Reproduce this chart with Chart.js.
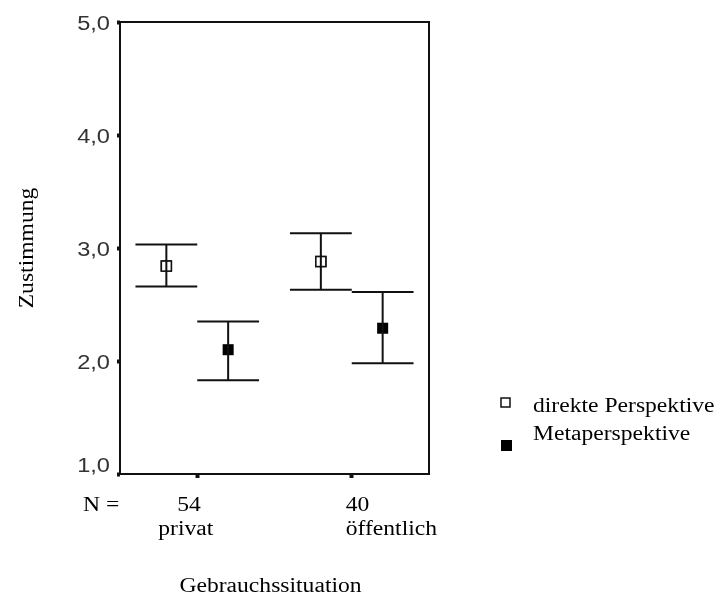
<!DOCTYPE html>
<html>
<head>
<meta charset="utf-8">
<script src="https://cdn.jsdelivr.net/npm/chart.js@4.4.0/dist/chart.umd.min.js"></script>
<style>
  html, body { margin: 0; padding: 0; background: #fff; }
  #wrap { position: relative; width: 723px; height: 599px; }
</style>
</head>
<body>
<div id="wrap"><canvas id="chart" width="723" height="599"></canvas></div>
<script>
// groups and sample sizes
const categories = ['privat', 'öffentlich'];
const groupSizes = [54, 40];
const seriesNames = ['direkte Perspektive', 'Metaperspektive'];

// means with lower / upper ends of the error bars
const direktMean = [2.84, 2.88];
const direktLower = [2.66, 2.63];
const direktUpper = [3.03, 3.13];
const metaMean = [2.10, 2.29];
const metaLower = [1.83, 1.98];
const metaUpper = [2.35, 2.61];

const yTickValues = [1, 2, 3, 4, 5];
const yTickLabels = ['1,0', '2,0', '3,0', '4,0', '5,0'];

const INK = '#111';
const SERIF = '"Liberation Serif", "Times New Roman", serif';
const SANS = '"Liberation Sans", Arial, sans-serif';
const STRETCH = 1.18;   // text in this figure is a bit wide
const OFFSET = 0.2;     // series shift left/right of the category centre
const CAP = 0.2;        // half width of the whisker caps

const toPoints = (means, lower, upper, shift) =>
  means.map((m, i) => ({ x: i + 0.5 + shift, y: m, lo: lower[i], hi: upper[i] }));

function wideText(ctx, text, x, y, align) {
  ctx.save();
  ctx.translate(x, y);
  ctx.scale(STRETCH, 1);
  ctx.textAlign = align || 'left';
  ctx.textBaseline = 'alphabetic';
  ctx.fillText(text, 0, 0);
  ctx.restore();
}

const frame = {
  id: 'frame',
  beforeDatasetsDraw(chart) {
    const { ctx, chartArea: a } = chart;
    ctx.save();
    ctx.strokeStyle = INK;
    ctx.lineWidth = 2;
    ctx.strokeRect(a.left, a.top, a.right - a.left, a.bottom - a.top);
    ctx.restore();
  }
};

const errorBars = {
  id: 'errorBars',
  afterDatasetsDraw(chart) {
    const { ctx, scales: { x, y } } = chart;
    ctx.save();
    ctx.strokeStyle = INK;
    ctx.lineWidth = 2;
    chart.data.datasets.forEach(ds => {
      ds.data.forEach(p => {
        const px = x.getPixelForValue(p.x);
        const l = x.getPixelForValue(p.x - CAP);
        const r = x.getPixelForValue(p.x + CAP);
        const top = y.getPixelForValue(p.hi);
        const bot = y.getPixelForValue(p.lo);
        ctx.beginPath();
        ctx.moveTo(px, top); ctx.lineTo(px, bot);
        ctx.moveTo(l, top); ctx.lineTo(r, top);
        ctx.moveTo(l, bot); ctx.lineTo(r, bot);
        ctx.stroke();
      });
    });
    // redraw the open markers' outline over the whisker
    chart.data.datasets.forEach((ds, di) => {
      if (ds.backgroundColor !== '#fff') return;
      chart.getDatasetMeta(di).data.forEach(el => {
        ctx.fillStyle = '#fff';
        ctx.strokeStyle = INK;
        ctx.lineWidth = 1.5;
        const s = 5;
        ctx.fillRect(el.x - s, el.y - s, 2 * s, 2 * s);
        ctx.strokeRect(el.x - s, el.y - s, 2 * s, 2 * s);
        ctx.lineWidth = 2;
        ctx.beginPath();
        ctx.moveTo(el.x, el.y - s); ctx.lineTo(el.x, el.y + s);
        ctx.stroke();
      });
    });
    ctx.restore();
  }
};

const labels = {
  id: 'labels',
  afterDraw(chart) {
    const { ctx, chartArea: a, scales: { x, y } } = chart;
    ctx.save();

    // value axis
    ctx.fillStyle = '#333';
    ctx.font = '20px ' + SANS;
    yTickValues.forEach((v, i) => {
      const py = y.getPixelForValue(v);
      const base = i === 0 ? py - 2 : py + 8;
      wideText(ctx, yTickLabels[i], a.left - 10, base, 'right');
    });

    // category axis: N row and group names
    ctx.fillStyle = '#000';
    ctx.font = '20px ' + SERIF;
    wideText(ctx, 'N =', a.left - 37, a.bottom + 37);
    const nShift = [-20, -6];
    const nameShift = [-39, -6];
    categories.forEach((c, i) => {
      const px = x.getPixelForValue(i + 0.5);
      wideText(ctx, String(groupSizes[i]), px + nShift[i], a.bottom + 37);
      wideText(ctx, c, px + nameShift[i], a.bottom + 61);
    });

    // axis titles
    wideText(ctx, 'Gebrauchssituation', (a.left + a.right) / 2 - 4, a.bottom + 118, 'center');
    ctx.save();
    ctx.translate(33, (a.top + a.bottom) / 2);
    ctx.rotate(-Math.PI / 2);
    ctx.scale(STRETCH, 1);
    ctx.textAlign = 'center';
    ctx.fillText('Zustimmung', 0, 0);
    ctx.restore();

    // legend
    const lx = a.right + 72;
    ctx.strokeStyle = INK;
    ctx.lineWidth = 1.5;
    ctx.fillStyle = '#fff';
    ctx.fillRect(lx, a.top + 376, 9, 9);
    ctx.strokeRect(lx, a.top + 376, 9, 9);
    ctx.fillStyle = '#000';
    ctx.fillRect(lx, a.top + 418, 11, 11);
    wideText(ctx, seriesNames[0], lx + 32, a.top + 390);
    wideText(ctx, seriesNames[1], lx + 32, a.top + 418);

    ctx.restore();
  }
};

new Chart(document.getElementById('chart'), {
  type: 'scatter',
  data: {
    datasets: [
      {
        label: seriesNames[0],
        data: toPoints(direktMean, direktLower, direktUpper, -OFFSET),
        pointStyle: 'rect',
        pointRadius: 7.1,
        backgroundColor: '#fff',
        borderColor: INK,
        borderWidth: 1.5
      },
      {
        label: seriesNames[1],
        data: toPoints(metaMean, metaLower, metaUpper, OFFSET),
        pointStyle: 'rect',
        pointRadius: 7.8,
        backgroundColor: '#000',
        borderColor: '#000',
        borderWidth: 0
      }
    ]
  },
  options: {
    responsive: false,
    animation: false,
    layout: { padding: { left: 0, right: 294, top: 22, bottom: 0 } },
    scales: {
      x: {
        type: 'linear',
        min: 0,
        max: 2,
        afterBuildTicks: s => { s.ticks = categories.map((_, i) => ({ value: i + 0.5 })); },
        afterFit: s => { s.height = 125; },
        ticks: { display: false },
        border: { display: false },
        grid: { drawOnChartArea: false, drawTicks: true, tickLength: 4, tickWidth: 4, color: INK }
      },
      y: {
        min: 1,
        max: 5,
        afterBuildTicks: s => { s.ticks = yTickValues.map(v => ({ value: v })); },
        afterFit: s => { s.width = 120; },
        ticks: { display: false },
        border: { display: false },
        grid: { drawOnChartArea: false, drawTicks: true, tickLength: 3, tickWidth: 4, color: INK }
      }
    },
    plugins: {
      legend: { display: false },
      tooltip: { enabled: false }
    }
  },
  plugins: [frame, errorBars, labels]
});
</script>
</body>
</html>
